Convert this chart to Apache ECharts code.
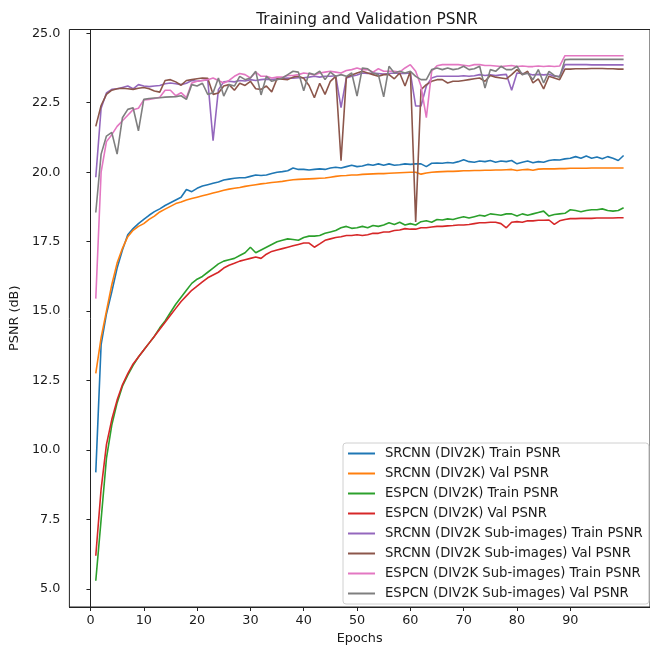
<!DOCTYPE html>
<html>
<head>
<meta charset="utf-8">
<title>Training and Validation PSNR</title>
<script src="https://cdn.jsdelivr.net/npm/echarts@6/dist/echarts.min.js"></script>
<style>
    html, body { margin: 0; padding: 0; background: #fff; }
    #echarts { width: 650px; height: 650px; }
</style>
</head>
<body>
<div id="echarts"></div>
<script>
/**
 * PSNR 训练曲线
 */

// epochs 1..100
const epochs = Array.from({ length: 100 }, (_, i) => i + 1);

const xTicks = [0, 10, 20, 30, 40, 50, 60, 70, 80, 90];
const yTicks = [5, 7.5, 10, 12.5, 15, 17.5, 20, 22.5, 25];

const seriesNames = [
    'SRCNN (DIV2K) Train PSNR',
    'SRCNN (DIV2K) Val PSNR',
    'ESPCN (DIV2K) Train PSNR',
    'ESPCN (DIV2K) Val PSNR',
    'SRCNN (DIV2K Sub-images) Train PSNR',
    'SRCNN (DIV2K Sub-images) Val PSNR',
    'ESPCN (DIV2K Sub-images) Train PSNR',
    'ESPCN (DIV2K Sub-images) Val PSNR'
];

const srcnnTrain = [
    9.2, 13.8, 14.9, 15.7, 16.55, 17.2, 17.75, 17.97, 18.15, 18.3,
    18.45, 18.58, 18.68, 18.8, 18.9, 19.0, 19.1, 19.38, 19.3, 19.42,
    19.5, 19.55, 19.6, 19.65, 19.72, 19.75, 19.78, 19.8, 19.8, 19.85,
    19.9, 19.88, 19.9, 19.95, 20.0, 20.02, 20.05, 20.15, 20.1, 20.1,
    20.08, 20.1, 20.12, 20.1, 20.15, 20.18, 20.15, 20.2, 20.25, 20.2,
    20.22, 20.28, 20.25, 20.3, 20.25, 20.3, 20.25, 20.27, 20.3, 20.28,
    20.3, 20.3, 20.2, 20.32, 20.33, 20.32, 20.35, 20.33, 20.38, 20.45,
    20.38, 20.36, 20.4, 20.38, 20.42, 20.36, 20.4, 20.38, 20.42, 20.3,
    20.36, 20.4, 20.34, 20.38, 20.36, 20.42, 20.45, 20.44, 20.48, 20.5,
    20.56, 20.5, 20.58, 20.5, 20.55, 20.48, 20.56, 20.5, 20.42, 20.6
];

const srcnnVal = [
    12.76, 14.05, 15.0, 15.95, 16.73, 17.26, 17.68, 17.91, 18.05, 18.15,
    18.3, 18.42, 18.57, 18.67, 18.77, 18.87, 18.93, 19.0, 19.05, 19.1,
    19.15, 19.2, 19.25, 19.3, 19.35, 19.39, 19.42, 19.45, 19.49, 19.52,
    19.55, 19.58, 19.6, 19.63, 19.65, 19.67, 19.7, 19.73, 19.74, 19.75,
    19.76, 19.77, 19.78, 19.79, 19.82, 19.85, 19.87, 19.88, 19.9, 19.9,
    19.92, 19.93, 19.94, 19.95, 19.95, 19.96, 19.97, 19.98, 19.99, 20.0,
    20.0, 19.93, 19.97, 20.0, 20.01, 20.02, 20.03, 20.03, 20.04, 20.05,
    20.05, 20.06, 20.06, 20.07, 20.07, 20.08, 20.08, 20.09, 20.1, 20.06,
    20.09, 20.1, 20.07, 20.11, 20.12, 20.12, 20.12, 20.13, 20.13, 20.14,
    20.14, 20.14, 20.14, 20.15, 20.15, 20.15, 20.15, 20.15, 20.15, 20.15
];

const espcnTrain = [
    5.3, 7.5, 9.7, 10.9, 11.7, 12.3, 12.7, 13.05, 13.35, 13.6,
    13.85, 14.1, 14.4, 14.65, 14.95, 15.25, 15.5, 15.75, 16.0, 16.15,
    16.25, 16.4, 16.55, 16.7, 16.8, 16.85, 16.9, 17.0, 17.1, 17.3,
    17.1, 17.2, 17.3, 17.4, 17.5, 17.55, 17.6, 17.58, 17.55, 17.65,
    17.7, 17.7, 17.72, 17.8, 17.85, 17.9, 18.0, 18.05, 17.98, 18.0,
    18.05, 18.0, 18.08, 18.05, 18.1, 18.18, 18.12, 18.2, 18.1, 18.15,
    18.1, 18.22, 18.25, 18.2, 18.3, 18.28, 18.32, 18.3, 18.35, 18.4,
    18.35, 18.4, 18.45, 18.42, 18.5, 18.48, 18.45, 18.5, 18.5, 18.42,
    18.5, 18.45, 18.5, 18.55, 18.6, 18.42, 18.48, 18.5, 18.52, 18.65,
    18.62, 18.58, 18.62, 18.65, 18.65, 18.68, 18.62, 18.6, 18.62, 18.72
];

const espcnVal = [
    6.2, 8.6, 10.2, 11.1, 11.8, 12.35, 12.75, 13.1, 13.35, 13.6,
    13.85, 14.1, 14.35, 14.6, 14.85, 15.1, 15.35, 15.55, 15.75, 15.9,
    16.05, 16.2, 16.3, 16.4, 16.55, 16.65, 16.72, 16.8, 16.85, 16.9,
    16.95, 16.9, 17.05, 17.15, 17.2, 17.25, 17.3, 17.35, 17.4, 17.45,
    17.45, 17.3, 17.42, 17.55, 17.6, 17.65, 17.68, 17.72, 17.72, 17.75,
    17.72, 17.75, 17.8, 17.8, 17.85, 17.85, 17.9, 17.92, 17.97, 17.95,
    17.95, 18.0, 18.0, 18.03, 18.05, 18.05, 18.07, 18.08, 18.1, 18.1,
    18.12, 18.15, 18.18, 18.18, 18.2, 18.2, 18.15, 18.0, 18.2, 18.22,
    18.2, 18.25, 18.25, 18.27, 18.27, 18.28, 18.12, 18.25, 18.3, 18.33,
    18.33, 18.34, 18.34, 18.34, 18.35, 18.35, 18.35, 18.35, 18.36, 18.36
];

const srcnnSubTrain = [
    19.82, 22.3, 22.85, 22.98, 23.0, 23.05, 23.1, 23.0, 23.15, 23.1,
    23.08, 23.1, 23.12, 23.18, 23.21, 23.18, 23.15, 23.2, 23.3, 23.27,
    23.3, 23.32, 21.13, 22.97, 23.25, 23.27, 23.25, 23.3, 23.28, 23.33,
    23.3, 23.33, 23.35, 23.33, 23.36, 23.38, 23.39, 23.38, 23.4, 23.4,
    23.42, 23.45, 23.42, 23.45, 23.45, 23.47, 22.32, 23.39, 23.45, 23.5,
    23.57, 23.55, 23.57, 23.55, 23.53, 23.55, 23.57, 23.55, 23.55, 23.57,
    22.38, 22.38, 23.1, 23.39, 23.45, 23.45, 23.45, 23.45, 23.45, 23.47,
    23.45, 23.47, 23.51, 23.48, 23.5, 23.48, 23.5, 23.52, 22.95, 23.57,
    23.55, 23.55, 23.5, 23.52, 23.5, 23.52, 23.45, 23.45, 23.87, 23.87,
    23.87, 23.87, 23.87, 23.86, 23.86, 23.86, 23.86, 23.86, 23.86, 23.86
];

const srcnnSubVal = [
    21.65, 22.4, 22.8, 22.95, 23.0, 23.02, 23.0, 22.98, 23.02, 23.05,
    23.0, 22.92, 22.88, 23.3, 23.33, 23.25, 23.13, 23.3, 23.33, 23.36,
    23.39, 23.38, 22.8, 22.85, 23.1, 23.15, 22.95, 23.2, 23.12, 23.27,
    23.0, 22.98, 23.1, 22.89, 23.36, 23.35, 23.33, 23.42, 23.45, 23.38,
    23.12, 22.68, 23.2, 22.8, 23.27, 23.45, 20.41, 23.42, 23.5, 23.57,
    23.63, 23.57, 23.51, 23.45, 23.51, 23.51, 23.36, 23.57, 23.1, 23.63,
    18.21, 22.97, 23.15, 23.27, 23.33, 23.33, 23.21, 23.27, 23.27, 23.3,
    23.33, 23.36, 23.39, 23.27, 23.48, 23.42, 23.39, 23.36, 23.51, 23.69,
    23.51, 23.63, 23.21, 23.36, 23.0, 23.45, 23.39, 23.33, 23.71, 23.71,
    23.72, 23.72, 23.72, 23.73, 23.73, 23.73, 23.72, 23.72, 23.71, 23.71
];

const espcnSubTrain = [
    15.45, 20.0, 21.1, 21.35, 21.65, 21.85, 22.05, 22.25, 22.3, 22.6,
    22.62, 22.65, 22.7, 22.95, 22.95, 22.75, 22.86, 22.68, 23.21, 23.27,
    23.3, 23.33, 23.39, 23.3, 23.21, 23.3, 23.45, 23.55, 23.51, 23.39,
    23.6, 23.45, 23.45, 23.39, 23.42, 23.42, 23.48, 23.48, 23.51, 23.57,
    23.54, 23.5, 23.57, 23.6, 23.63, 23.6, 23.57, 23.66, 23.69, 23.75,
    23.69, 23.69, 23.6, 23.72, 23.63, 23.63, 23.63, 23.6, 23.75, 23.87,
    23.63, 23.1, 21.96, 23.63, 23.83, 23.87, 23.87, 23.87, 23.87, 23.85,
    23.82, 23.87, 23.87, 23.84, 23.84, 23.82, 23.8, 23.82, 23.84, 23.8,
    23.82, 23.8, 23.8, 23.82, 23.8, 23.82, 23.8, 23.82, 24.19, 24.19,
    24.19, 24.19, 24.19, 24.19, 24.19, 24.19, 24.19, 24.19, 24.19, 24.19
];

const espcnSubVal = [
    18.55, 20.65, 21.3, 21.43, 20.65, 21.96, 22.26, 22.32, 21.49, 22.62,
    22.65, 22.67, 22.68, 22.7, 22.71, 22.72, 22.75, 22.62, 23.15, 23.1,
    23.2, 22.8, 22.86, 23.39, 22.74, 23.15, 23.1, 23.45, 23.33, 23.39,
    23.63, 22.78, 23.45, 23.27, 23.33, 23.39, 23.51, 23.63, 23.6, 22.93,
    23.57, 23.51, 23.63, 23.33, 23.6, 23.45, 23.51, 23.45, 23.57, 22.74,
    23.75, 23.72, 23.57, 23.51, 22.71, 23.81, 23.57, 23.63, 23.57, 23.63,
    23.45, 23.33, 23.33, 23.69, 23.75, 23.69, 23.75, 23.69, 23.72, 23.81,
    23.69, 23.72, 23.81, 23.03, 23.69, 23.63, 23.81, 23.69, 23.69, 23.81,
    23.51, 23.57, 23.33, 23.69, 23.21, 23.63, 23.48, 23.42, 24.05, 24.06,
    24.06, 24.06, 24.06, 24.06, 24.06, 24.06, 24.06, 24.06, 24.06, 24.06
];

const seriesValues = [
    srcnnTrain, srcnnVal, espcnTrain, espcnVal,
    srcnnSubTrain, srcnnSubVal, espcnSubTrain, espcnSubVal
];

// matplotlib tab10
const colors = ['#1f77b4', '#ff7f0e', '#2ca02c', '#d62728', '#9467bd', '#8c564b', '#e377c2', '#7f7f7f'];

const FONT = 'DejaVu Sans';
const INK = '#1a1a1a';
const FS = 12.8;

let createEchart = function (echartsInName, option) {
    let chart = echarts.init(document.getElementById(echartsInName), null, { renderer: 'canvas' });
    chart.setOption(option);
    return chart;
}

let psnrChart = function () {
    let series = seriesNames.map((name, i) => ({
        name: name,
        type: 'line',
        data: epochs.map((ep, j) => [ep, seriesValues[i][j]]),
        showSymbol: false,
        symbol: 'none',
        color: colors[i],
        lineStyle: { width: 1.6, color: colors[i] },
        clip: true
    }));

    let option = {
        animation: false,
        backgroundColor: '#fff',
        title: {
            text: 'Training and Validation PSNR',
            left: 362,
            top: 7,
            textAlign: 'center',
            textStyle: { fontFamily: FONT, fontSize: 15.4, fontWeight: 'normal', color: INK }
        },
        legend: {
            orient: 'vertical',
            left: 343,
            top: 443,
            padding: [3, 6, 3, 5],
            itemGap: 5,
            itemWidth: 27,
            itemHeight: 2,
            icon: 'rect',
            backgroundColor: 'rgba(255,255,255,0.8)',
            borderColor: '#d0d0d0',
            borderWidth: 1,
            borderRadius: 3,
            textStyle: { fontFamily: FONT, fontSize: 13.2, color: INK, lineHeight: 15, padding: [0, 0, 0, 5] },
            data: seriesNames
        },
        grid: {
            left: 69,
            top: 29.5,
            width: 584,
            height: 581.8,
            show: true,
            borderColor: '#222',
            borderWidth: 1,
            backgroundColor: 'transparent'
        },
        xAxis: {
            type: 'value',
            min: -3.95,
            max: 104.95,
            name: 'Epochs',
            nameLocation: 'middle',
            nameGap: 25,
            nameTextStyle: { fontFamily: FONT, fontSize: FS, color: INK },
            splitLine: { show: false },
            axisLine: { show: true, lineStyle: { color: '#222', width: 1 } },
            axisTick: { show: true, length: 4, customValues: xTicks, lineStyle: { color: '#222' } },
            axisLabel: {
                customValues: xTicks,
                margin: 7,
                fontFamily: FONT,
                fontSize: FS,
                color: INK,
                formatter: v => String(v)
            }
        },
        yAxis: {
            type: 'value',
            min: 4.356,
            max: 25.134,
            name: 'PSNR (dB)',
            nameLocation: 'middle',
            nameGap: 45,
            nameTextStyle: { fontFamily: FONT, fontSize: FS, color: INK },
            splitLine: { show: false },
            axisLine: { show: true, lineStyle: { color: '#222', width: 1 } },
            axisTick: { show: true, length: 4, customValues: yTicks, lineStyle: { color: '#222' } },
            axisLabel: {
                customValues: yTicks,
                margin: 9,
                fontFamily: FONT,
                fontSize: FS,
                color: INK,
                formatter: v => v.toFixed(1)
            }
        },
        series: series
    };

    return option;
}

window.onload = function () {
    createEchart('echarts', psnrChart());
}
</script>
</body>
</html>
